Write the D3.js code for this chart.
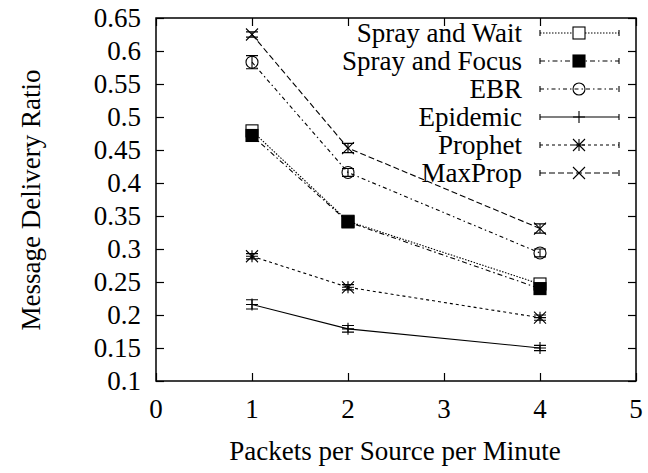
<!DOCTYPE html>
<html><head><meta charset="utf-8"><script src="https://cdn.jsdelivr.net/npm/d3@7"></script></head>
<body style="margin:0">
<script>
// data
var xValues = [1, 2, 4];
var seriesNames = ["Spray and Wait", "Spray and Focus", "EBR", "Epidemic", "Prophet", "MaxProp"];
var sprayWait = [0.479, 0.342, 0.247];
var sprayFocus = [0.472, 0.341, 0.240];
var ebr = [0.583, 0.416, 0.294];
var epidemic = [0.216, 0.179, 0.150];
var prophet = [0.289, 0.242, 0.196];
var maxprop = [0.625, 0.453, 0.331];
var errSprayWait = [0.008, 0.004, 0.004];
var errSprayFocus = [0.008, 0.004, 0.006];
var errEbr = [0.01, 0.006, 0.006];
var errEpidemic = [0.007, 0.005, 0.004];
var errProphet = [0.004, 0.004, 0.004];
var errMaxprop = [0.004, 0.007, 0.007];
var xTicks = [0, 1, 2, 3, 4, 5];
var yTicks = [0.1, 0.15, 0.2, 0.25, 0.3, 0.35, 0.4, 0.45, 0.5, 0.55, 0.6, 0.65];

var FONT = "'Liberation Serif'";
var FS = "27px";
var width = 648, height = 473;
var margin = {top: 18, right: 12, bottom: 92, left: 156};
var w = width - margin.left - margin.right;
var h = height - margin.top - margin.bottom;

var series = [
    {name: seriesNames[0], values: sprayWait, err: errSprayWait, dash: "1.5,1.5", marker: "square"},
    {name: seriesNames[1], values: sprayFocus, err: errSprayFocus, dash: "5,3,1.5,3", marker: "fsquare"},
    {name: seriesNames[2], values: ebr, err: errEbr, dash: "4,3,1.5,3", marker: "circle"},
    {name: seriesNames[3], values: epidemic, err: errEpidemic, dash: null, marker: "plus"},
    {name: seriesNames[4], values: prophet, err: errProphet, dash: "3,3", marker: "star"},
    {name: seriesNames[5], values: maxprop, err: errMaxprop, dash: "6,3", marker: "cross"}
];

var svg = d3.select("body").append("svg")
    .attr("width", width).attr("height", height);

function label(sel, xp, yp, txt, anchor) {
    return sel.append("text").attr("x", xp).attr("y", yp)
        .style("font-family", FONT).style("font-size", FS)
        .style("text-anchor", anchor).text(txt);
}

var g = svg.append("g")
    .attr("transform", "translate(" + margin.left + "," + margin.top + ")");

var x = d3.scaleLinear().domain([0, 5]).range([0, w]);
var y = d3.scaleLinear().domain([0.1, 0.65]).range([h, 0]);

var tickLen = 8;
// tick marks on all four sides, pointing inside; labels drawn separately
g.append("g").call(d3.axisBottom(x).tickValues(xTicks).tickSize(-tickLen).tickFormat(""))
    .attr("transform", "translate(0," + h + ")")
    .call(a => a.select(".domain").remove());
g.append("g").call(d3.axisTop(x).tickValues(xTicks).tickSize(-tickLen).tickFormat(""))
    .call(a => a.select(".domain").remove());
g.append("g").call(d3.axisLeft(y).tickValues(yTicks).tickSize(-tickLen).tickFormat(""))
    .call(a => a.select(".domain").remove());
g.append("g").attr("transform", "translate(" + w + ",0)")
    .call(d3.axisRight(y).tickValues(yTicks).tickSize(-tickLen).tickFormat(""))
    .call(a => a.select(".domain").remove());
g.selectAll(".tick text").remove();
g.selectAll(".tick line").attr("stroke", "#000").attr("stroke-width", 1.2);

xTicks.forEach(function(t) { label(g, x(t), h + 37, String(t), "middle"); });
yTicks.forEach(function(t) { label(g, -15, y(t) + 9, String(t), "end"); });

g.append("rect").attr("width", w).attr("height", h)
    .attr("fill", "none").attr("stroke", "#000").attr("stroke-width", 1.5);

function drawMarker(sel, type, cx, cy) {
    var s = 6;
    if (type === "square" || type === "fsquare") {
        sel.append("rect").attr("x", cx - s).attr("y", cy - s).attr("width", 2 * s).attr("height", 2 * s)
            .attr("fill", type === "fsquare" ? "#000" : "#fff").attr("stroke", "#000").attr("stroke-width", 1.1);
    } else if (type === "circle") {
        sel.append("circle").attr("cx", cx).attr("cy", cy).attr("r", s)
            .attr("fill", "none").attr("stroke", "#000").attr("stroke-width", 1.1);
    } else if (type === "plus") {
        sel.append("path").attr("d", "M" + (cx - s) + "," + cy + "H" + (cx + s) + "M" + cx + "," + (cy - s) + "V" + (cy + s))
            .attr("stroke", "#000").attr("stroke-width", 1.1);
    } else if (type === "cross") {
        sel.append("path").attr("d", "M" + (cx - s) + "," + (cy - s) + "L" + (cx + s) + "," + (cy + s) +
            "M" + (cx - s) + "," + (cy + s) + "L" + (cx + s) + "," + (cy - s))
            .attr("stroke", "#000").attr("stroke-width", 1.1);
    } else if (type === "star") {
        sel.append("path").attr("d", "M" + (cx - s) + "," + cy + "H" + (cx + s) + "M" + cx + "," + (cy - s) + "V" + (cy + s) +
            "M" + (cx - s) + "," + (cy - s) + "L" + (cx + s) + "," + (cy + s) +
            "M" + (cx - s) + "," + (cy + s) + "L" + (cx + s) + "," + (cy - s))
            .attr("stroke", "#000").attr("stroke-width", 1.1);
    }
}

var line = d3.line().x(d => x(d.x)).y(d => y(d.y));

series.forEach(function(s) {
    var pts = xValues.map((xv, i) => ({x: xv, y: s.values[i], e: s.err[i]}));
    var sg = g.append("g");
    sg.append("path").datum(pts).attr("d", line)
        .attr("fill", "none").attr("stroke", "#000").attr("stroke-width", 1.1)
        .attr("stroke-dasharray", s.dash);
    pts.forEach(function(p) {
        var cx = x(p.x), y0 = y(p.y - p.e), y1 = y(p.y + p.e);
        sg.append("path").attr("d", "M" + cx + "," + y0 + "V" + y1 +
                "M" + (cx - 6) + "," + y0 + "H" + (cx + 6) + "M" + (cx - 6) + "," + y1 + "H" + (cx + 6))
            .attr("stroke", "#000").attr("stroke-width", 1.1).attr("fill", "none");
        drawMarker(sg, s.marker, cx, y(p.y));
    });
});

// legend
var legend = svg.append("g");
series.forEach(function(s, i) {
    var ly = 33 + i * 28;
    label(legend, 522, ly + 9, s.name, "end");
    legend.append("path").attr("d", "M540," + ly + "H619")
        .attr("stroke", "#000").attr("stroke-width", 1.1).attr("stroke-dasharray", s.dash);
    legend.append("path").attr("d", "M540," + (ly - 3) + "V" + (ly + 3) + "M619," + (ly - 3) + "V" + (ly + 3))
        .attr("stroke", "#000").attr("stroke-width", 1.1);
    drawMarker(legend, s.marker, 579, ly);
});

// axis titles
label(svg, 395, 460, "Packets per Source per Minute", "middle");
label(svg, 0, 0, "Message Delivery Ratio", "middle")
    .attr("transform", "translate(40,200) rotate(-90)");
</script></body></html>
